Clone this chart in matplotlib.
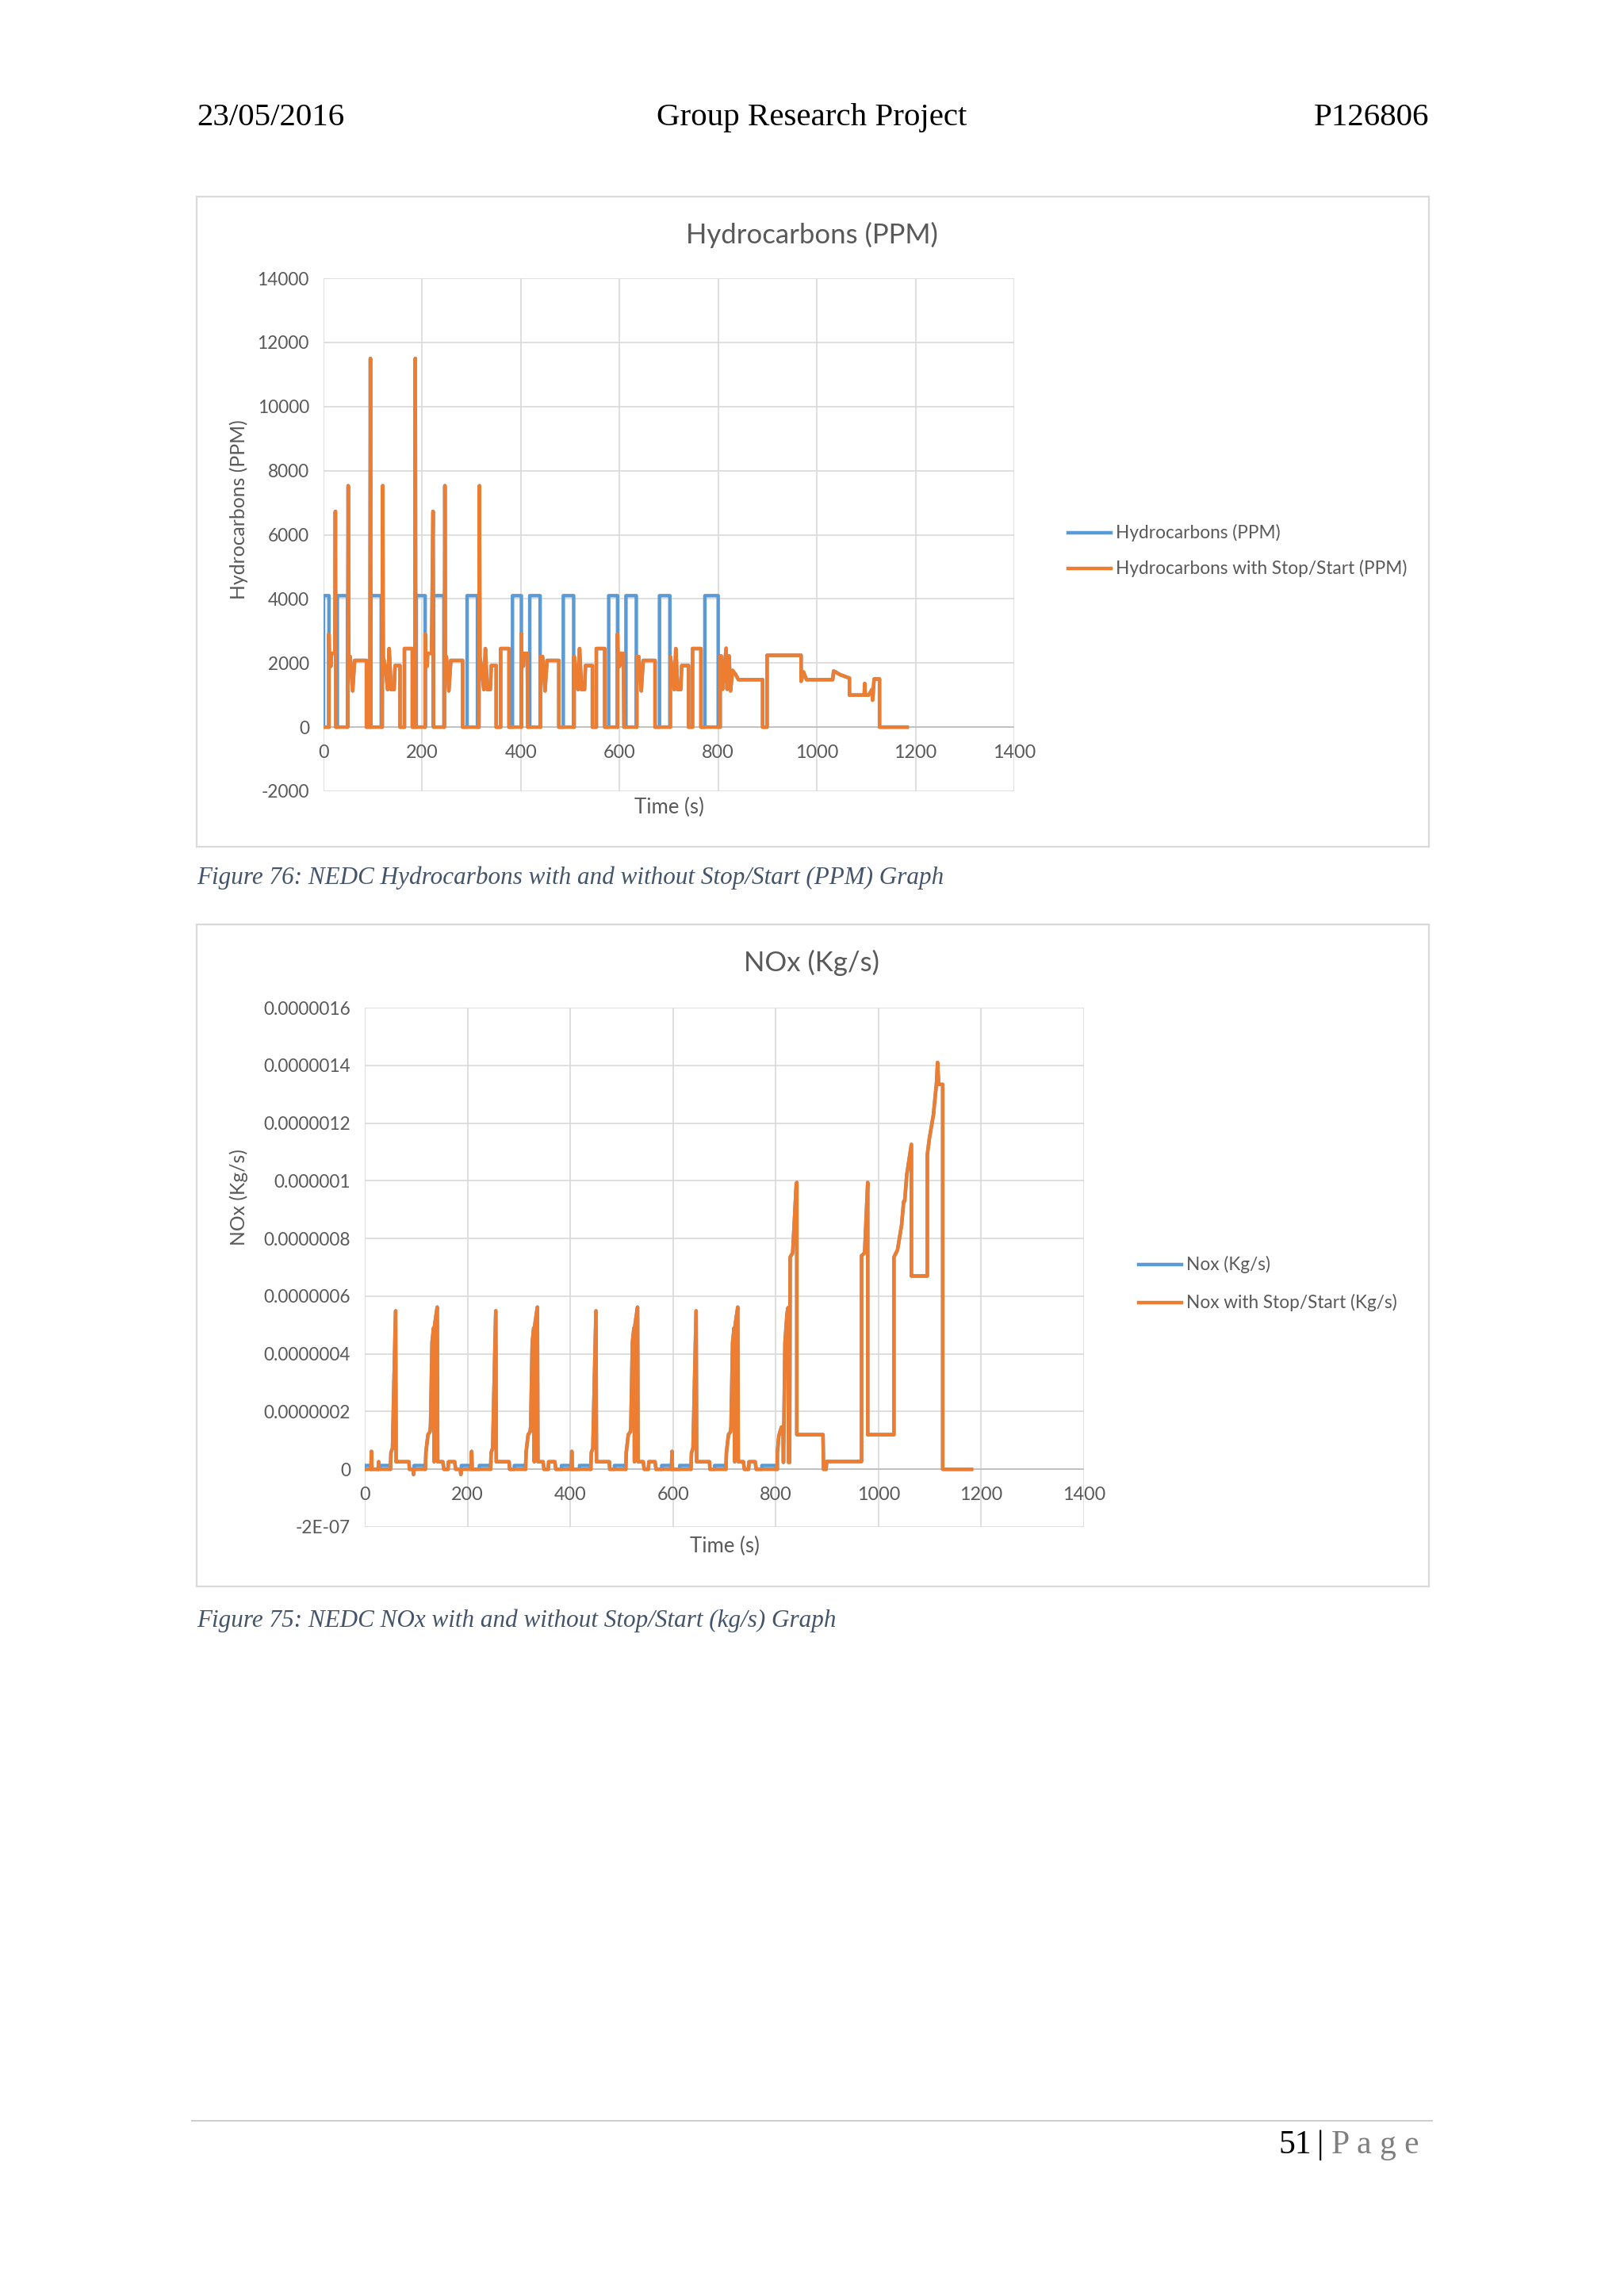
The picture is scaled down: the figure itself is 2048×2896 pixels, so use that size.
import matplotlib
matplotlib.use("Agg")
import matplotlib.pyplot as plt
from matplotlib.lines import Line2D
from matplotlib.patches import Rectangle

plt.rcParams['font.family'] = ['Lato', 'DejaVu Sans']

W, H = 2048, 2896
BLUE = '#5B9BD5'
ORANGE = '#ED7D31'
GRID = '#D9D9D9'
TXT = '#595959'

time_ticks = [0, 200, 400, 600, 800, 1000, 1200, 1400]
hc_ticks = [-2000, 0, 2000, 4000, 6000, 8000, 10000, 12000, 14000]
nox_ticks = [-2e-7, 0, 2e-7, 4e-7, 6e-7, 8e-7, 1e-6, 1.2e-6, 1.4e-6, 1.6e-6]
nox_tick_labels = ['-2E-07', '0', '0.0000002', '0.0000004', '0.0000006', '0.0000008',
                   '0.000001', '0.0000012', '0.0000014', '0.0000016']

# idle phases of the NEDC, where the engine without stop/start keeps running
idle_start = [0, 28, 96, 188, 223, 291, 383, 418, 486, 578, 613, 681, 773]
idle_end = [11, 49, 117, 206, 244, 312, 401, 439, 507, 596, 634, 702, 800]
hc_idle = 4100
nox_idle = 1.3e-8

# hydrocarbons with stop/start (ppm)
hc_t = [0, 11, 11, 12, 13, 15, 16, 23, 24, 25, 49, 50, 51, 54, 59, 63, 87, 87, 94, 95,
        96, 119, 120, 121, 125, 130, 133, 137, 143, 145, 155, 155, 164, 164, 180, 180, 185, 186, 187,
        206, 206, 207, 208, 210, 211, 219, 222, 223, 245, 246, 247, 249, 254, 258, 282, 282,
        315, 316, 317, 320, 325, 328, 332, 338, 340, 350, 350, 359, 359, 376, 376,
        401, 401, 402, 403, 405, 406, 413, 414, 440, 440, 444, 449, 453, 477, 477,
        508, 508, 511, 516, 519, 523, 529, 531, 545, 545, 553, 553, 570, 570,
        596, 596, 597, 598, 600, 601, 608, 609, 635, 635, 639, 644, 648, 672, 672,
        703, 703, 706, 711, 714, 718, 724, 726, 740, 740, 748, 748, 765, 765,
        804, 804, 806, 809, 816, 818, 822, 825, 829, 835, 841, 890, 890, 899, 899, 968, 968, 973, 979, 1032,
        1034, 1048, 1066, 1066, 1096, 1097, 1098, 1105, 1112, 1113, 1116, 1127, 1127, 1183]
hc_v = [0, 0, 2900, 1880, 2300, 1900, 2300, 2300, 6730, 0, 0, 7530, 2200, 2200, 1130, 2080, 2080, 0, 0, 11500,
        0, 0, 7530, 2200, 1880, 1170, 2450, 1170, 1170, 1920, 1920, 0, 0, 2450, 2450, 0, 0, 11500, 0,
        0, 2900, 1880, 2300, 1900, 2300, 2300, 6730, 0, 0, 7530, 2200, 2200, 1130, 2080, 2080, 0,
        0, 7530, 2200, 1880, 1170, 2450, 1170, 1170, 1920, 1920, 0, 0, 2450, 2450, 0,
        0, 2900, 1880, 2300, 1900, 2300, 2300, 0, 0, 2200, 2200, 1130, 2080, 2080, 0,
        0, 2200, 1880, 1170, 2450, 1170, 1170, 1920, 1920, 0, 0, 2450, 2450, 0,
        0, 2900, 1880, 2300, 1900, 2300, 2300, 0, 0, 2200, 2200, 1130, 2080, 2080, 0,
        0, 2200, 1880, 1170, 2450, 1170, 1170, 1920, 1920, 0, 0, 2450, 2450, 0,
        0, 2220, 2220, 1180, 2460, 1180, 2220, 1130, 1770, 1650, 1480, 1480, 0, 0, 2240, 2240, 1430, 1720, 1480, 1480,
        1750, 1630, 1530, 1000, 1000, 1360, 1000, 1000, 1180, 840, 1500, 1500, 0, 0]

# NOx with stop/start (kg/s)
nox_t = [0, 12, 13, 14, 26, 27, 28, 50, 51, 54, 60, 61, 86, 87, 94, 95, 96, 118, 119, 123,
         127, 128, 131, 134, 135, 136, 141, 142, 152, 154, 162, 163, 175, 177, 186, 187, 188,
         207, 208, 209, 245, 246, 249, 255, 256, 281, 282, 313, 314, 318, 322, 323, 326, 329, 330, 331, 336,
         337, 347, 349, 357, 358, 370, 372,
         402, 403, 404, 440, 441, 444, 450, 451, 476, 477, 508, 509, 513, 517, 518, 521, 524, 525, 526, 531,
         532, 542, 544, 552, 553, 565, 567,
         597, 598, 599, 635, 636, 639, 645, 646, 671, 672, 703, 704, 708, 712, 713, 716, 719, 720, 721, 726,
         727, 737, 739, 747, 748, 760, 762,
         803, 803, 806, 811, 814, 815, 818, 822, 824, 825, 827, 828, 833, 840, 841, 841, 892, 893, 898, 899,
         967, 967, 973, 979, 979, 1030, 1030, 1037, 1045, 1049, 1051, 1055, 1064, 1064, 1095, 1095, 1099, 1107,
         1113, 1115, 1117, 1125, 1125, 1181]
nox_v = [0, 0, 6.2e-8, 0, 0, 2.6e-8, 0, 0, 5.8e-8, 7.3e-8, 5.49e-7, 2.6e-8, 2.6e-8, 0, 0, -1.8e-8, 0, 0, 5.8e-8, 1.2e-7,
         1.3e-7, 1.5e-7, 4.4e-7, 4.9e-7, 2.6e-8, 5.0e-7, 5.62e-7, 2.6e-8, 2.6e-8, 0, 0, 2.6e-8, 2.6e-8, 0, 0, -1.8e-8, 0,
         0, 6.2e-8, 0, 0, 5.8e-8, 7.3e-8, 5.49e-7, 2.6e-8, 2.6e-8, 0, 0, 5.8e-8, 1.2e-7, 1.3e-7, 1.5e-7, 4.4e-7, 4.9e-7, 2.6e-8, 5.0e-7, 5.62e-7,
         2.6e-8, 2.6e-8, 0, 0, 2.6e-8, 2.6e-8, 0,
         0, 6.2e-8, 0, 0, 5.8e-8, 7.3e-8, 5.49e-7, 2.6e-8, 2.6e-8, 0, 0, 5.8e-8, 1.2e-7, 1.3e-7, 1.5e-7, 4.4e-7, 4.9e-7, 2.6e-8, 5.0e-7, 5.62e-7,
         2.6e-8, 2.6e-8, 0, 0, 2.6e-8, 2.6e-8, 0,
         0, 6.2e-8, 0, 0, 5.8e-8, 7.3e-8, 5.49e-7, 2.6e-8, 2.6e-8, 0, 0, 5.8e-8, 1.2e-7, 1.3e-7, 1.5e-7, 4.4e-7, 4.9e-7, 2.6e-8, 5.0e-7, 5.62e-7,
         2.6e-8, 2.6e-8, 0, 0, 2.6e-8, 2.6e-8, 0,
         0, 5.5e-8, 1.16e-7, 1.46e-7, 1.46e-7, 2.4e-8, 4.4e-7, 5.4e-7, 5.6e-7, 2.4e-8, 2.4e-8, 7.35e-7, 7.5e-7, 9.9e-7, 9.94e-7, 1.2e-7, 1.2e-7, 0, 0, 2.7e-8,
         2.7e-8, 7.4e-7, 7.5e-7, 9.94e-7, 1.2e-7, 1.2e-7, 7.35e-7, 7.6e-7, 8.47e-7, 9.28e-7, 9.3e-7, 1.02e-6, 1.126e-6, 6.7e-7, 6.7e-7, 1.09e-6, 1.146e-6, 1.23e-6,
         1.34e-6, 1.41e-6, 1.334e-6, 1.334e-6, 0, 0]


def without_stop_start(t, v, level):
    '''Same trace, but the engine keeps idling (level) in the idle phases'''
    pts = [(ti, vi, 4) for ti, vi in zip(t, v)
           if not (vi == 0 and any(a <= ti <= b for a, b in zip(idle_start, idle_end)))]
    for a, b in zip(idle_start, idle_end):
        pts += [(a, 0, 0), (a, level, 1), (b, level, 2), (b, 0, 3)]
    pts.sort(key=lambda p: (p[0], p[2]))
    return [p[0] for p in pts], [p[1] for p in pts]


fig = plt.figure(figsize=(W / 100, H / 100), dpi=100)
fig.patch.set_facecolor('white')


def fx(px):
    return px / W


def fy(py):
    return 1 - py / H


def box(l, t, r, b):
    return [fx(l), fy(b), (r - l) / W, (b - t) / H]


def chart(rect, border, t, v, level, yticks, ylabels, ylim, title, title_y, ylabel, ylabel_pos,
          xlabel_y, legend_x, legend_y, names):
    fig.add_artist(Rectangle((fx(border[0]), fy(border[3])), (border[2] - border[0]) / W,
                             (border[3] - border[1]) / H, transform=fig.transFigure,
                             fill=False, ec=GRID, lw=1.6))
    ax = fig.add_axes(box(*rect))
    ax.set_xlim(0, 1400)
    ax.set_ylim(*ylim)
    ax.set_xticks(time_ticks)
    ax.set_yticks(yticks)
    ax.set_yticklabels(ylabels, fontsize=16.3, color=TXT)
    ax.set_xticklabels([])
    ax.tick_params(length=0, pad=13)
    ax.grid(True, color=GRID, lw=1.2)
    ax.set_axisbelow(True)
    for s in ax.spines.values():
        s.set_visible(False)
    ax.axhline(0, color='#BFBFBF', lw=1.3, zorder=1)
    for x in time_ticks:
        ax.annotate(str(x), (x, 0), xytext=(0, -23), textcoords='offset points',
                    ha='center', va='center', fontsize=16.8, color=TXT)
    bt, bv = without_stop_start(t, v, level)
    ax.plot(bt, bv, color=BLUE, lw=3.2, zorder=3)
    ax.plot(t, v, color=ORANGE, lw=3.2, zorder=4)

    fig.text(fx(1024), fy(title_y), title, ha='center', va='center', fontsize=25, color=TXT)
    fig.text(fx(ylabel_pos[0]), fy(ylabel_pos[1]), ylabel, rotation=90, ha='center', va='center',
             fontsize=17.8, color=TXT)
    fig.text(fx((rect[0] + rect[2]) / 2), fy(xlabel_y), 'Time (s)', ha='center', va='center',
             fontsize=18.5, color=TXT)
    for ly, col, name in zip(legend_y, [BLUE, ORANGE], names):
        fig.add_artist(Line2D([fx(legend_x), fx(legend_x + 54)], [fy(ly), fy(ly)], color=col, lw=3.2))
        fig.text(fx(legend_x + 60), fy(ly), name, ha='left', va='center', fontsize=16.3, color=TXT)


chart((408, 351, 1279, 998), (248, 248, 1802, 1068), hc_t, hc_v, hc_idle,
      hc_ticks, [str(y) for y in hc_ticks], (-2000, 14000),
      'Hydrocarbons (PPM)', 296, 'Hydrocarbons (PPM)', (301, 643), 1018,
      1347, [672, 717], ['Hydrocarbons (PPM)', 'Hydrocarbons with Stop/Start (PPM)'])

chart((460, 1271, 1367, 1926), (248, 1166, 1802, 2001), nox_t, nox_v, nox_idle,
      nox_ticks, nox_tick_labels, (-2e-7, 1.6e-6),
      'NOx (Kg/s)', 1214, 'NOx (Kg/s)', (301, 1510), 1950,
      1436, [1595, 1643], ['Nox (Kg/s)', 'Nox with Stop/Start (Kg/s)'])

# page header, captions and footer
serif = 'Liberation Serif'
fig.text(fx(248), fy(158), '23/05/2016', family=serif, fontsize=29.5, ha='left', va='baseline')
fig.text(fx(1024), fy(158), 'Group Research Project', family=serif, fontsize=29.5, ha='center', va='baseline')
fig.text(fx(1802), fy(158), 'P126806', family=serif, fontsize=29.5, ha='right', va='baseline')

cap_col = '#44546A'
fig.text(fx(248), fy(1115), 'Figure 76: NEDC Hydrocarbons with and without Stop/Start (PPM) Graph',
         family=serif, style='italic', fontsize=22.4, color=cap_col, ha='left', va='baseline')
fig.text(fx(248), fy(2052), 'Figure 75: NEDC NOx with and without Stop/Start (kg/s) Graph',
         family=serif, style='italic', fontsize=22.4, color=cap_col, ha='left', va='baseline')

fig.add_artist(Line2D([fx(242), fx(1806)], [fy(2675), fy(2675)], color='#D0D0D0', lw=1.5))
fig.text(fx(1612), fy(2716), '51', family=serif, fontsize=30, ha='left', va='baseline')
fig.text(fx(1665), fy(2716), '|', family=serif, fontsize=30, ha='center', va='baseline')
fig.text(fx(1679), fy(2716), 'P a g e', family=serif, fontsize=30, color='#7F7F7F', ha='left', va='baseline')

fig.savefig('out.png', dpi=100, facecolor='white')
plt.close(fig)
